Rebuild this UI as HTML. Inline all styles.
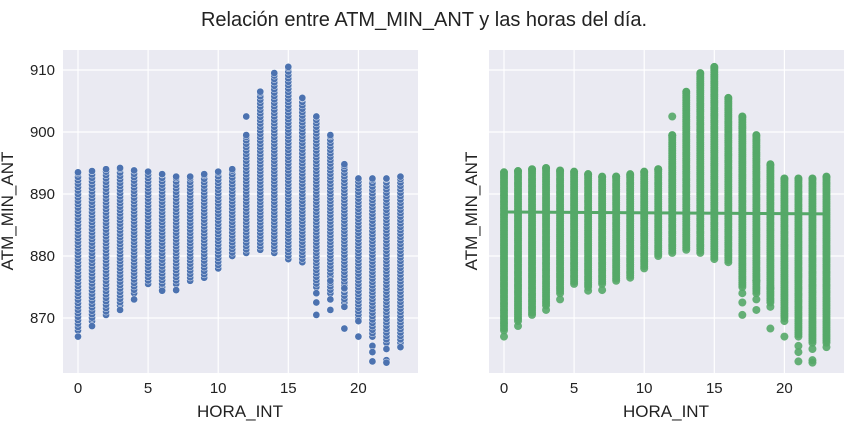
<!DOCTYPE html>
<html><head><meta charset="utf-8"><style>
body{margin:0;background:#fff;}
svg{display:block;font-family:"Liberation Sans",sans-serif;}
</style></head><body>
<svg id="c" width="849" height="426">
<text x="424" y="26" font-size="20" text-anchor="middle" fill="#222">Relación entre ATM_MIN_ANT y las horas del día.</text>
</svg>
<script>
const hours=[0,1,2,3,4,5,6,7,8,9,10,11,12,13,14,15,16,17,18,19,20,21,22,23];
const hiVals=[893.5,893.7,894,894.2,893.8,893.6,893.2,892.8,892.8,893.2,893.6,894,899.5,906.5,909.5,910.5,905.5,902.5,899.5,894.8,892.5,892.5,892.5,892.8];
const loVals=[868,869.5,870.5,872,874,875.5,875,875.5,876,876.5,878,880,880.5,881,880.5,879.5,879,875,874,872.5,870,867,866,866];
const outHour=[0,1,3,4,6,7,12,17,17,17,18,18,18,19,19,19,20,20,21,21,21,22,22,22,23];
const outVal=[867,868.7,871.3,873,874.4,874.5,902.5,874,872.5,870.5,876,873,871.3,874.8,871.8,868.3,869.5,867,865.5,864.5,863,865,863.2,862.8,865.3];
const regStart=887.1, regEnd=886.8;
const yTicks=[870,880,890,900,910];
const xTicks=[0,5,10,15,20];
const NS="http://www.w3.org/2000/svg";
const svg=document.getElementById('c');
function mk(t,a,p){const e=document.createElementNS(NS,t);for(const k in a)e.setAttribute(k,a[k]);(p||svg).appendChild(e);return e;}
const Y=v=>70+(910-v)*6.2;
function panel(ox,color,right,name){
  const X=h=>ox+15+h*14.02;
  const g=mk('g',{});
  
  
  const bg=mk('rect',{x:ox,y:50,width:355,height:323,fill:'#eaeaf2'},g);
  
  
  yTicks.forEach(v=>{mk('line',{x1:ox,x2:ox+355,y1:Y(v),y2:Y(v),stroke:'#fff','stroke-width':1.2},g);
    if(!right){const t=mk('text',{x:ox-8,y:Y(v)+5,'font-size':15,'text-anchor':'end',fill:'#222'},g);t.textContent=v;
      }});
  xTicks.forEach(v=>{mk('line',{x1:X(v),x2:X(v),y1:50,y2:373,stroke:'#fff','stroke-width':1.2},g);
    const t=mk('text',{x:X(v),y:393,'font-size':15,'text-anchor':'middle',fill:'#222'},g);t.textContent=v;
    });
  const xl=mk('text',{x:ox+177,y:417,'font-size':17,'text-anchor':'middle',fill:'#222'},g);xl.textContent='HORA_INT';
  
  const lx=ox-(right?12:50);
  const yl=mk('text',{x:lx,y:211,'font-size':17,'text-anchor':'middle',fill:'#222',transform:`rotate(-90 ${lx} 211)`},g);yl.textContent='ATM_MIN_ANT';
  
  const r=right?4:3.6;
  const step=right?0.35:0.55;
  const sw=right?0:0.45;
  hours.forEach((h,i)=>{
    for(let v=loVals[i];v<=hiVals[i]+0.01;v+=step){
      const c=mk('circle',{cx:X(h),cy:Y(v),r:r,fill:color,stroke:right?'none':'#fff','stroke-width':sw,opacity:right?0.9:1},g);
      
    }
    const top=mk('circle',{cx:X(h),cy:Y(hiVals[i]),r:r,fill:color,stroke:right?'none':'#fff','stroke-width':sw},g);
    
  });
  outHour.forEach((h,i)=>{
    const c=mk('circle',{cx:X(h),cy:Y(outVal[i]),r:r,fill:color,stroke:right?'none':'#fff','stroke-width':sw,opacity:right?0.9:1},g);
    
  });
  if(right){
    const l=mk('line',{x1:X(0),x2:X(23),y1:Y(regStart),y2:Y(regEnd),stroke:'#55a868','stroke-width':3},g);
    
  }
}
panel(63,'#4c72b0',false,'scatter-panel');
panel(489,'#55a868',true,'regression-panel');
</script>
</body></html>
